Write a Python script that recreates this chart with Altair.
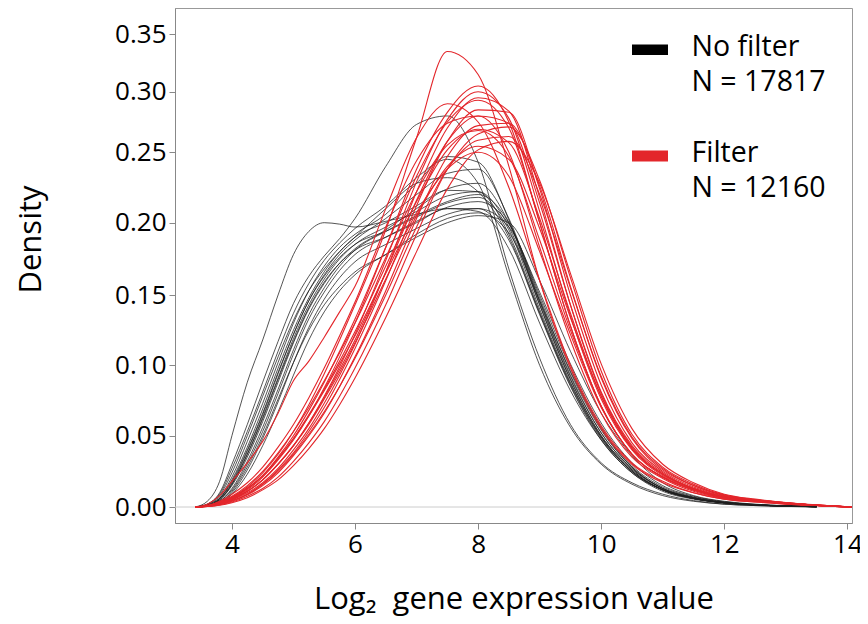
import altair as alt
import pandas as pd

# x grid (log2 expression) shared by all density curves
X = [3.4, 3.6, 3.8, 4.0, 4.25, 4.5, 4.75, 5.0, 5.25, 5.5, 5.75, 6.0, 6.5, 7.0, 7.5,
     8.0, 8.5, 9.0, 9.5, 10.0, 10.5, 11.0, 11.5, 12.0, 12.5, 13.0, 13.5, 14.0, 14.2]

# "No filter" curves (values up to x = 13.5)
BLACK = [
    [0, .004, .018, .050, .088, .118, .150, .178, .194, .200, .199, .197, .201, .206, .210, .208, .182, .130, .082, .047, .024, .012, .006, .003, .0015, .0007, .0002],
    [0, .002, .010, .030, .058, .088, .117, .144, .163, .177, .189, .203, .240, .273, .280, .243, .168, .105, .058, .031, .017, .009, .0045, .002, .001, .0004, .0001],
    [0, .002, .009, .027, .053, .081, .110, .137, .158, .174, .186, .196, .212, .232, .245, .228, .163, .100, .056, .030, .016, .008, .004, .002, .001, .0004, .0001],
    [0, .0015, .007, .021, .046, .073, .102, .130, .153, .170, .183, .192, .206, .228, .247, .243, .202, .143, .090, .050, .026, .012, .006, .003, .0015, .0006, .0002],
    [0, .001, .006, .017, .039, .065, .094, .122, .146, .164, .178, .188, .203, .220, .235, .238, .203, .146, .093, .052, .027, .013, .0065, .003, .0015, .0007, .0002],
    [0, .0015, .008, .024, .050, .078, .106, .132, .153, .168, .180, .190, .210, .228, .232, .222, .190, .137, .086, .048, .025, .012, .006, .003, .0015, .0006, .0002],
    [0, .001, .005, .015, .035, .060, .088, .116, .140, .158, .172, .182, .195, .210, .224, .228, .200, .145, .092, .052, .027, .013, .0065, .003, .0015, .0007, .0002],
    [0, .001, .006, .019, .042, .069, .098, .125, .148, .166, .180, .190, .200, .212, .223, .222, .192, .138, .087, .049, .025, .012, .006, .003, .0015, .0006, .0002],
    [0, .001, .005, .016, .037, .063, .091, .119, .143, .161, .175, .185, .197, .208, .219, .222, .197, .143, .090, .050, .026, .012, .006, .003, .0015, .0006, .0002],
    [0, .001, .004, .013, .032, .056, .083, .111, .136, .155, .170, .181, .194, .205, .215, .220, .200, .148, .095, .054, .028, .013, .0065, .003, .0015, .0007, .0002],
    [0, .001, .006, .018, .040, .066, .095, .122, .146, .163, .176, .185, .194, .204, .214, .218, .195, .140, .088, .049, .025, .012, .006, .003, .0015, .0006, .0002],
    [0, .0008, .004, .012, .030, .053, .080, .108, .133, .152, .167, .178, .190, .201, .211, .215, .199, .150, .098, .056, .029, .014, .007, .0035, .0017, .0008, .0002],
    [0, .001, .005, .016, .037, .062, .090, .117, .141, .159, .172, .181, .190, .200, .210, .210, .188, .136, .085, .047, .024, .011, .0055, .0027, .0013, .0006, .0002],
    [0, .0007, .003, .010, .026, .048, .074, .102, .127, .147, .162, .173, .185, .196, .206, .210, .197, .152, .101, .059, .031, .015, .0075, .0037, .0018, .0008, .0002],
    [0, .0007, .003, .011, .028, .050, .076, .102, .125, .143, .156, .166, .178, .192, .203, .207, .193, .146, .096, .055, .028, .013, .0065, .003, .0015, .0007, .0002],
    [0, .0005, .0025, .009, .023, .043, .067, .093, .118, .138, .153, .164, .178, .190, .200, .205, .200, .160, .110, .066, .036, .017, .008, .004, .002, .0009, .0003],
]

# "Filter" curves (values up to x = 14.2, beyond the right edge)
RED = [
    [0, .001, .003, .007, .014, .024, .037, .053, .072, .094, .118, .143, .195, .262, .335, .315, .240, .160, .098, .055, .030, .017, .010, .0055, .0035, .002, .001, .0002, .0001],
    [0, .002, .008, .018, .031, .046, .066, .089, .103, .120, .138, .156, .210, .262, .290, .275, .225, .160, .100, .057, .031, .018, .010, .0055, .0035, .002, .001, .0002, .0001],
    [0, .0008, .003, .006, .012, .021, .033, .047, .064, .084, .106, .130, .183, .238, .283, .305, .275, .200, .128, .071, .037, .021, .012, .0065, .0042, .0025, .0011, .0002, .0001],
    [0, .0007, .0025, .0055, .011, .019, .030, .043, .059, .078, .099, .122, .174, .229, .277, .300, .278, .208, .135, .076, .040, .022, .013, .007, .0045, .0027, .0012, .0002, .0001],
    [0, .0006, .002, .005, .010, .017, .027, .040, .055, .073, .093, .115, .166, .222, .270, .295, .284, .218, .143, .080, .042, .023, .013, .007, .0045, .0027, .0012, .0002, .0001],
    [0, .0008, .003, .0065, .013, .022, .035, .050, .068, .088, .110, .133, .183, .233, .275, .293, .270, .200, .128, .071, .037, .021, .012, .0065, .0042, .0025, .0011, .0002, .0001],
    [0, .0005, .002, .0045, .009, .016, .026, .038, .053, .070, .090, .112, .160, .212, .259, .285, .283, .224, .150, .086, .045, .025, .014, .0075, .0048, .0028, .0013, .0002, .0001],
    [0, .0007, .0025, .0055, .011, .019, .030, .043, .059, .077, .097, .118, .166, .216, .259, .280, .274, .214, .143, .081, .043, .024, .013, .007, .0045, .0027, .0012, .0002, .0001],
    [0, .0005, .0018, .004, .0085, .015, .024, .036, .050, .066, .085, .106, .153, .203, .247, .272, .274, .226, .156, .091, .048, .026, .015, .008, .005, .003, .0013, .0002, .0001],
    [0, .0004, .0015, .0035, .0075, .013, .021, .032, .045, .060, .078, .098, .143, .192, .238, .265, .271, .230, .162, .096, .051, .028, .016, .0085, .0052, .003, .0014, .0002, .0001],
    [0, .0008, .003, .0065, .013, .022, .034, .048, .065, .083, .103, .124, .170, .215, .252, .269, .258, .203, .137, .078, .041, .023, .013, .007, .0045, .0027, .0012, .0002, .0001],
    [0, .0009, .0035, .0075, .015, .025, .038, .053, .070, .089, .109, .130, .176, .222, .256, .268, .247, .188, .125, .071, .037, .021, .012, .0065, .0042, .0025, .0011, .0002, .0001],
    [0, .0005, .002, .0045, .009, .016, .025, .037, .051, .067, .085, .105, .150, .197, .238, .260, .263, .220, .155, .092, .049, .027, .015, .008, .005, .003, .0013, .0002, .0001],
    [0, .0003, .0012, .003, .0065, .012, .019, .029, .041, .055, .072, .091, .134, .180, .224, .252, .259, .228, .165, .101, .055, .030, .017, .009, .0055, .0032, .0015, .0002, .0001],
    [0, .0007, .0025, .0055, .011, .019, .030, .043, .058, .076, .095, .116, .161, .205, .240, .255, .245, .196, .134, .078, .041, .023, .013, .007, .0045, .0027, .0012, .0002, .0001],
    [0, .0008, .003, .0065, .013, .022, .034, .048, .064, .082, .101, .121, .165, .207, .238, .250, .233, .180, .122, .070, .037, .021, .012, .0065, .0042, .0025, .0011, .0002, .0001],
    [0, .001, .004, .009, .017, .028, .042, .058, .077, .098, .121, .145, .197, .244, .274, .280, .250, .183, .118, .066, .035, .020, .011, .006, .004, .0024, .001, .0002, .0001],
]

X_TICKS = [4, 6, 8, 10, 12, 14]
Y_TICKS = [0.0, 0.05, 0.10, 0.15, 0.20, 0.25, 0.30, 0.35]
LEGEND_LINES = ["No filter", "N = 17817", "Filter", "N = 12160"]
X_TITLE = "Log₂\u00a0 gene expression value"
Y_TITLE = "Density"
BLACK_C = "#1e1e1e"
RED_C = "#e3262b"
FONT = "Open Sans"


def long_df(curves, tag):
    rows = []
    for i, vals in enumerate(curves):
        for x, v in zip(X, vals):
            rows.append({"x": x, "y": v, "curve": f"{tag}{i}"})
    return pd.DataFrame(rows)


df_b = long_df(BLACK, "b")
df_r = long_df(RED, "r")

W, H = 677, 515
x_scale = alt.Scale(domain=[3.075, 14.075], nice=False, zero=False)
# the reference's y axis is not evenly spaced: a piecewise-linear scale reproduces its ticks
y_scale = alt.Scale(
    domain=[-0.0112, 0.0, 0.05, 0.10, 0.15, 0.20, 0.25, 0.30, 0.35, 0.3729],
    range=[515, 499, 427.7, 357.3, 287, 214.7, 144.3, 83.7, 26.3, 0],
    nice=False, zero=False,
)

x_axis = alt.Axis(values=X_TICKS, title=X_TITLE, labelFontSize=26,
                  tickSize=6, labelPadding=2, titleFontSize=31, titleBaseline="alphabetic",
                  titleY=85)
y_axis = alt.Axis(values=Y_TICKS, format=".2f", title=Y_TITLE, labelFontSize=26,
                  tickSize=6, labelPadding=3, titleFontSize=31, titleX=-128, titleY=231)

X_ENC = alt.X("x:Q", scale=x_scale, axis=x_axis)
Y_ENC = alt.Y("y:Q", scale=y_scale, axis=y_axis)

baseline = alt.Chart(pd.DataFrame({"x": [3.075, 14.075], "y": [0, 0]})).mark_line(
    color="#cccccc", strokeWidth=1).encode(x=X_ENC, y=Y_ENC)

black = alt.Chart(df_b).mark_line(interpolate="monotone", strokeWidth=0.9, color=BLACK_C,
                                  opacity=0.85, clip=True).encode(x=X_ENC, y=Y_ENC, detail="curve:N")
red = alt.Chart(df_r).mark_line(interpolate="monotone", strokeWidth=1.1, color=RED_C,
                                clip=True).encode(x=X_ENC, y=Y_ENC, detail="curve:N")

dummy = pd.DataFrame({"a": [0]})
leg_rects = [
    alt.Chart(dummy).mark_rect(color="#000000").encode(
        x=alt.value(457), x2=alt.value(493), y=alt.value(36.5), y2=alt.value(47)),
    alt.Chart(dummy).mark_rect(color=RED_C).encode(
        x=alt.value(457), x2=alt.value(493), y=alt.value(142.5), y2=alt.value(153.5)),
]
leg_y = [47.7, 82.7, 153.7, 188.7]
leg_texts = [
    alt.Chart(dummy).mark_text(align="left", baseline="alphabetic", fontSize=28.5, font=FONT,
                               color="black").encode(
        x=alt.value(516.5), y=alt.value(yy), text=alt.value(t))
    for t, yy in zip(LEGEND_LINES, leg_y)
]

chart = alt.layer(baseline, black, red, *leg_rects, *leg_texts).properties(
    width=W, height=H,
    autosize=alt.AutoSizeParams(type="none"),
    padding={"left": 167, "top": 0, "right": 8, "bottom": 93},
).configure_view(stroke="#999999", strokeWidth=1).configure_axis(
    grid=False, domainColor="#888888", tickColor="#888888", labelFont=FONT, titleFont=FONT,
    labelColor="black", titleColor="black", titleFontWeight="normal",
)

chart.save("out.html", embed_options={"renderer": "svg", "actions": False})
